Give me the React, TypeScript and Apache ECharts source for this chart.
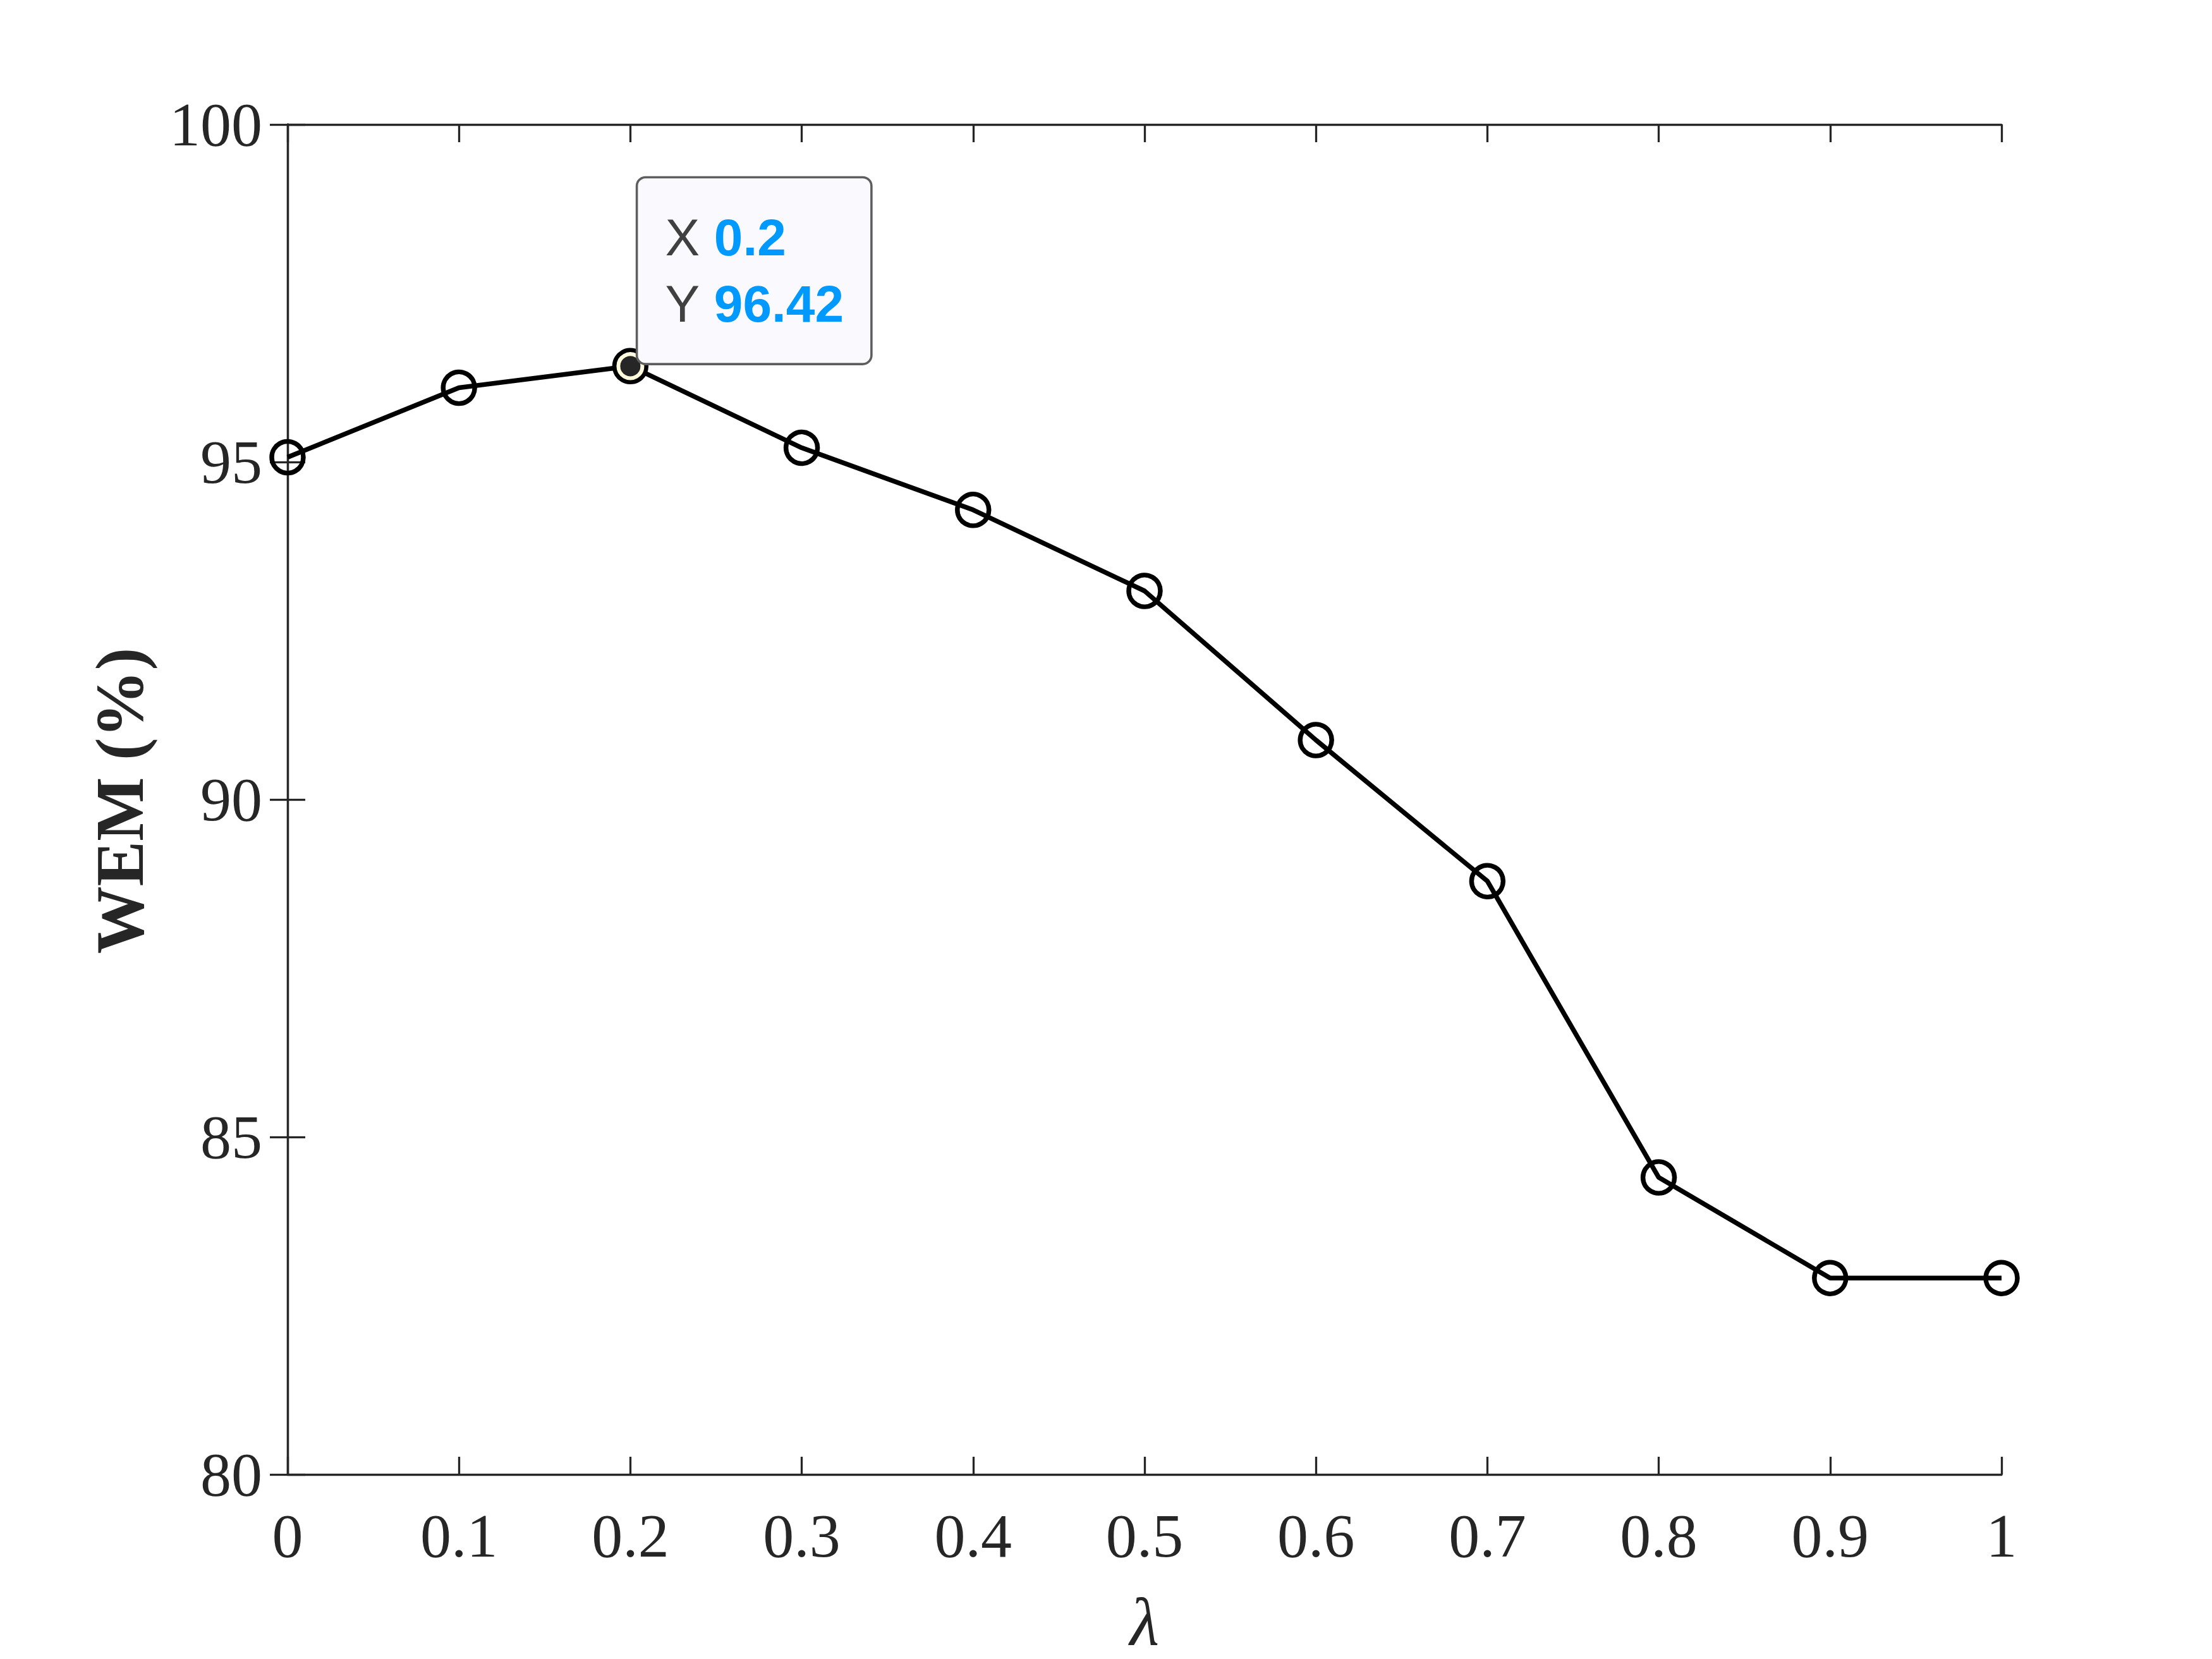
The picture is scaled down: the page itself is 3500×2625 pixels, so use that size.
import React, { useEffect, useRef } from "react";
import * as echarts from "echarts";

const lambdas = [0, 0.1, 0.2, 0.3, 0.4, 0.5, 0.6, 0.7, 0.8, 0.9, 1];
const wem = [95.07, 96.1, 96.42, 95.21, 94.29, 93.09, 90.88, 88.79, 84.4, 82.91, 82.91];
const highlightIndex = 2;
const yAxisTitle = "WEM (%)";
const xAxisTitle = "λ";

export default function App() {
  const ref = useRef<HTMLDivElement>(null);
  useEffect(() => {
    if (!ref.current) return;
    const chart = echarts.init(ref.current, null, { renderer: "svg" });
    const axisColor = "#262626";
    const serif = "'Liberation Serif', 'Times New Roman', serif";
    const sans = "'Liberation Sans', Arial, Helvetica, sans-serif";
    const commonAxisLine = { show: true, lineStyle: { color: axisColor, width: 3.3 } };
    const commonTick = { show: true, inside: true, length: 28, lineStyle: { color: axisColor, width: 3.3 } };
    const hx = lambdas[highlightIndex];
    const hy = wem[highlightIndex];
    chart.setOption({
      animation: false,
      backgroundColor: "#ffffff",
      grid: { left: 455, right: 333, top: 197, bottom: 291, show: false },
      xAxis: [
        {
          type: "value",
          min: 0,
          max: 1,
          interval: 0.1,
          position: "bottom",
          axisLine: commonAxisLine,
          axisTick: commonTick,
          splitLine: { show: false },
          axisLabel: {
            show: true,
            margin: 48,
            color: axisColor,
            fontFamily: serif,
            fontSize: 98,
            formatter: (v: number) => String(+v.toFixed(1)),
          },
          name: xAxisTitle,
          nameLocation: "middle",
          nameGap: 180,
          nameTextStyle: { fontFamily: serif, fontStyle: "italic", fontSize: 107, color: axisColor },
        },
        {
          type: "value",
          min: 0,
          max: 1,
          interval: 0.1,
          position: "top",
          axisLine: commonAxisLine,
          axisTick: commonTick,
          splitLine: { show: false },
          axisLabel: { show: false },
        },
      ],
      yAxis: [
        {
          type: "value",
          min: 80,
          max: 100,
          interval: 5,
          position: "left",
          axisLine: commonAxisLine,
          axisTick: commonTick,
          splitLine: { show: false },
          axisLabel: {
            show: true,
            margin: 40,
            color: axisColor,
            fontFamily: serif,
            fontSize: 98,
          },
        },
        {
          type: "value",
          min: 80,
          max: 100,
          interval: 5,
          position: "right",
          axisLine: commonAxisLine,
          axisTick: commonTick,
          splitLine: { show: false },
          axisLabel: { show: false },
        },
      ],
      graphic: [
        {
          type: "text",
          x: 190,
          y: 1267,
          rotation: Math.PI / 2,
          style: {
            text: yAxisTitle,
            fontFamily: serif,
            fontWeight: "bold",
            fontSize: 107,
            fill: axisColor,
            textAlign: "center",
            textVerticalAlign: "middle",
          },
        },
      ],
      series: [
        {
          type: "line",
          data: lambdas.map((x, i) => [x, wem[i]]),
          xAxisIndex: 0,
          yAxisIndex: 0,
          clip: false,
          symbol: "circle",
          symbolSize: 50,
          lineStyle: { color: "#000000", width: 7.5 },
          itemStyle: { color: "rgba(0,0,0,0)", borderColor: "#000000", borderWidth: 7.5 },
          z: 3,
        },
        {
          type: "scatter",
          data: [[hx, hy]],
          xAxisIndex: 0,
          yAxisIndex: 0,
          clip: false,
          symbol: "circle",
          symbolSize: 38,
          itemStyle: { color: "#262626", borderColor: "#fffbdc", borderWidth: 6, opacity: 1 },
          z: 5,
          label: {
            show: true,
            position: [34, 17],
            align: "left",
            verticalAlign: "bottom",
            backgroundColor: "#f9f9fe",
            borderColor: "#5e5e5e",
            borderWidth: 3.6,
            borderRadius: 12,
            padding: [41, 42, 41, 43],
            lineHeight: 105,
            opacity: 1,
            textBorderWidth: 0,
            formatter: () => `{k|X }{v|${hx}}\n{k|Y }{v|${hy.toFixed(2)}}`,
            rich: {
              k: { fontFamily: sans, fontSize: 82, color: "#404040", lineHeight: 105, textBorderWidth: 0 },
              v: {
                fontFamily: sans,
                fontSize: 82,
                fontWeight: "bold",
                color: "#0099ff",
                lineHeight: 105,
                textBorderWidth: 0,
              },
            },
          },
        },
      ],
    });
    return () => chart.dispose();
  }, []);
  return (
    <div
      ref={ref}
      style={{ position: "fixed", left: 0, top: 0, width: 3500, height: 2625, background: "#fff" }}
    />
  );
}
